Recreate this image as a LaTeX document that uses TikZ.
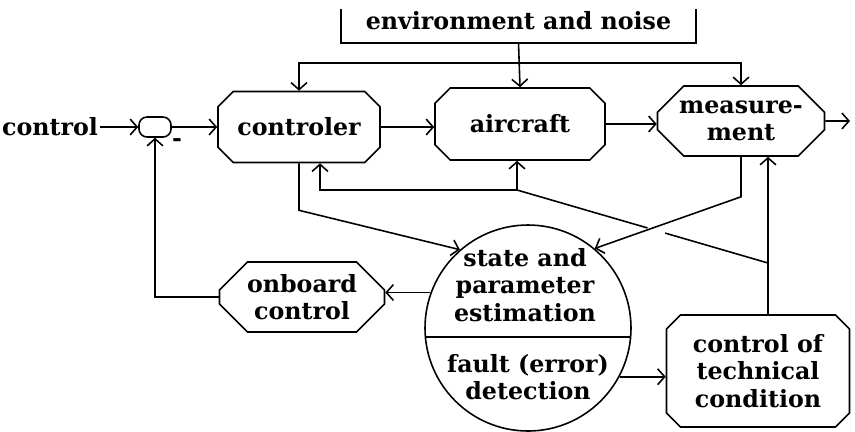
\documentclass[tikz,border=0pt]{standalone}
\usepackage{fontspec}
\setmainfont{DejaVu Serif}
\usetikzlibrary{shapes.misc,arrows.meta,calc}
\newcommand{\epais}{0.9pt}
\tikzset{
  txt/.style={align=center,inner sep=1pt,font=\bfseries\fontsize{13.5}{15.5}\selectfont},
  bloc/.style={txt,draw,chamfered rectangle,chamfered rectangle xsep=0.44cm,inner sep=0pt},
  fleche/.style={->,>={Straight Barb[length=4pt,width=9pt]}},
}

\begin{document}
\begin{tikzpicture}[line width=\epais]
        \useasboundingbox (0,0) rectangle (17.1,-8.62);
        \node[txt,minimum width=7.06cm,minimum height=0.84cm] (env) at (10.37,-0.42) {environment and noise};
        \draw ([yshift=-0.2cm]env.north west) -- (env.south west) -- (env.south east) -- ([yshift=-0.2cm]env.north east);
        \coordinate (split) at (10.34,-1.26);
        \node[txt] (ctrlin) at (1.0,-2.54) {control};
        \node[draw,rounded corners=0.16cm,minimum width=0.64cm,minimum height=0.4cm,inner sep=0pt] (sum) at (3.10,-2.54) {};
        \node[txt] (minus) at (3.54,-2.86) {-};
        \node[bloc,minimum width=3.24cm,minimum height=1.42cm] (ctl) at (5.98,-2.54) {controler};
        \node[bloc,minimum width=3.4cm,minimum height=1.44cm] (air) at (10.40,-2.48) {aircraft};
        \node[bloc,minimum width=3.34cm,minimum height=1.4cm] (meas) at (14.82,-2.42) {measure-\\ment};
        \coordinate (out) at (17.0,-2.42);
        \node[bloc,minimum width=3.3cm,minimum height=1.4cm] (onb) at (6.04,-5.94) {onboard\\control};
        \node[draw,circle,minimum size=4.12cm,inner sep=0pt] (est) at (10.56,-6.56) {};
        \node[txt] (estup) at (10.50,-5.70) {state and\\parameter\\estimation};
        \node[txt] (estlow) at (10.56,-7.54) {fault (error)\\detection};
        \draw (est.185) -- (est.355);
        \node[bloc,chamfered rectangle xsep=0.16cm,minimum width=3.66cm,minimum height=2.24cm] (ctc) at (15.16,-7.42) {control of\\technical\\condition};
        % main chain
        \draw[fleche] (ctrlin) -- (sum);
        \draw[fleche] (sum) -- (ctl);
        \draw[fleche] (ctl) -- (ctl -| air.west);
        \draw[fleche] (air.east) -- (air.east -| meas.west);
        \draw[fleche] (meas) -- (out);
        % environment
        \draw[fleche] (env.south) -- (air.north);
        \draw[fleche] (split) -| (ctl.north);
        \draw[fleche] (split) -| (meas.north);
        % feedback
        \draw[fleche] (onb.west) -| (sum.south);
        \draw[fleche] (est.160) -- (est.160 -| onb.east);
        \draw[fleche] (est.-28) -- (est.-28 -| ctc.west);
        \draw[fleche] (ctl.south) -- ++(0,-0.94) -- (est.131);
        \draw[fleche] (meas.south) -- ++(0,-0.80) -- (est.50);
        \coordinate (tap) at (15.36,-5.26);
        \coordinate (junc) at (10.34,-3.80);
        \draw[fleche] (ctc.north -| tap) -- (tap |- meas.south);
        \draw (tap) -- ($(tap)!0.41!(junc)$);
        \draw ($(tap)!0.48!(junc)$) -- (junc);
        \draw[fleche] (junc) -- (junc |- air.south);
        \draw[fleche] (junc) -| ([xshift=0.42cm]ctl.south);
\end{tikzpicture}
\end{document}
